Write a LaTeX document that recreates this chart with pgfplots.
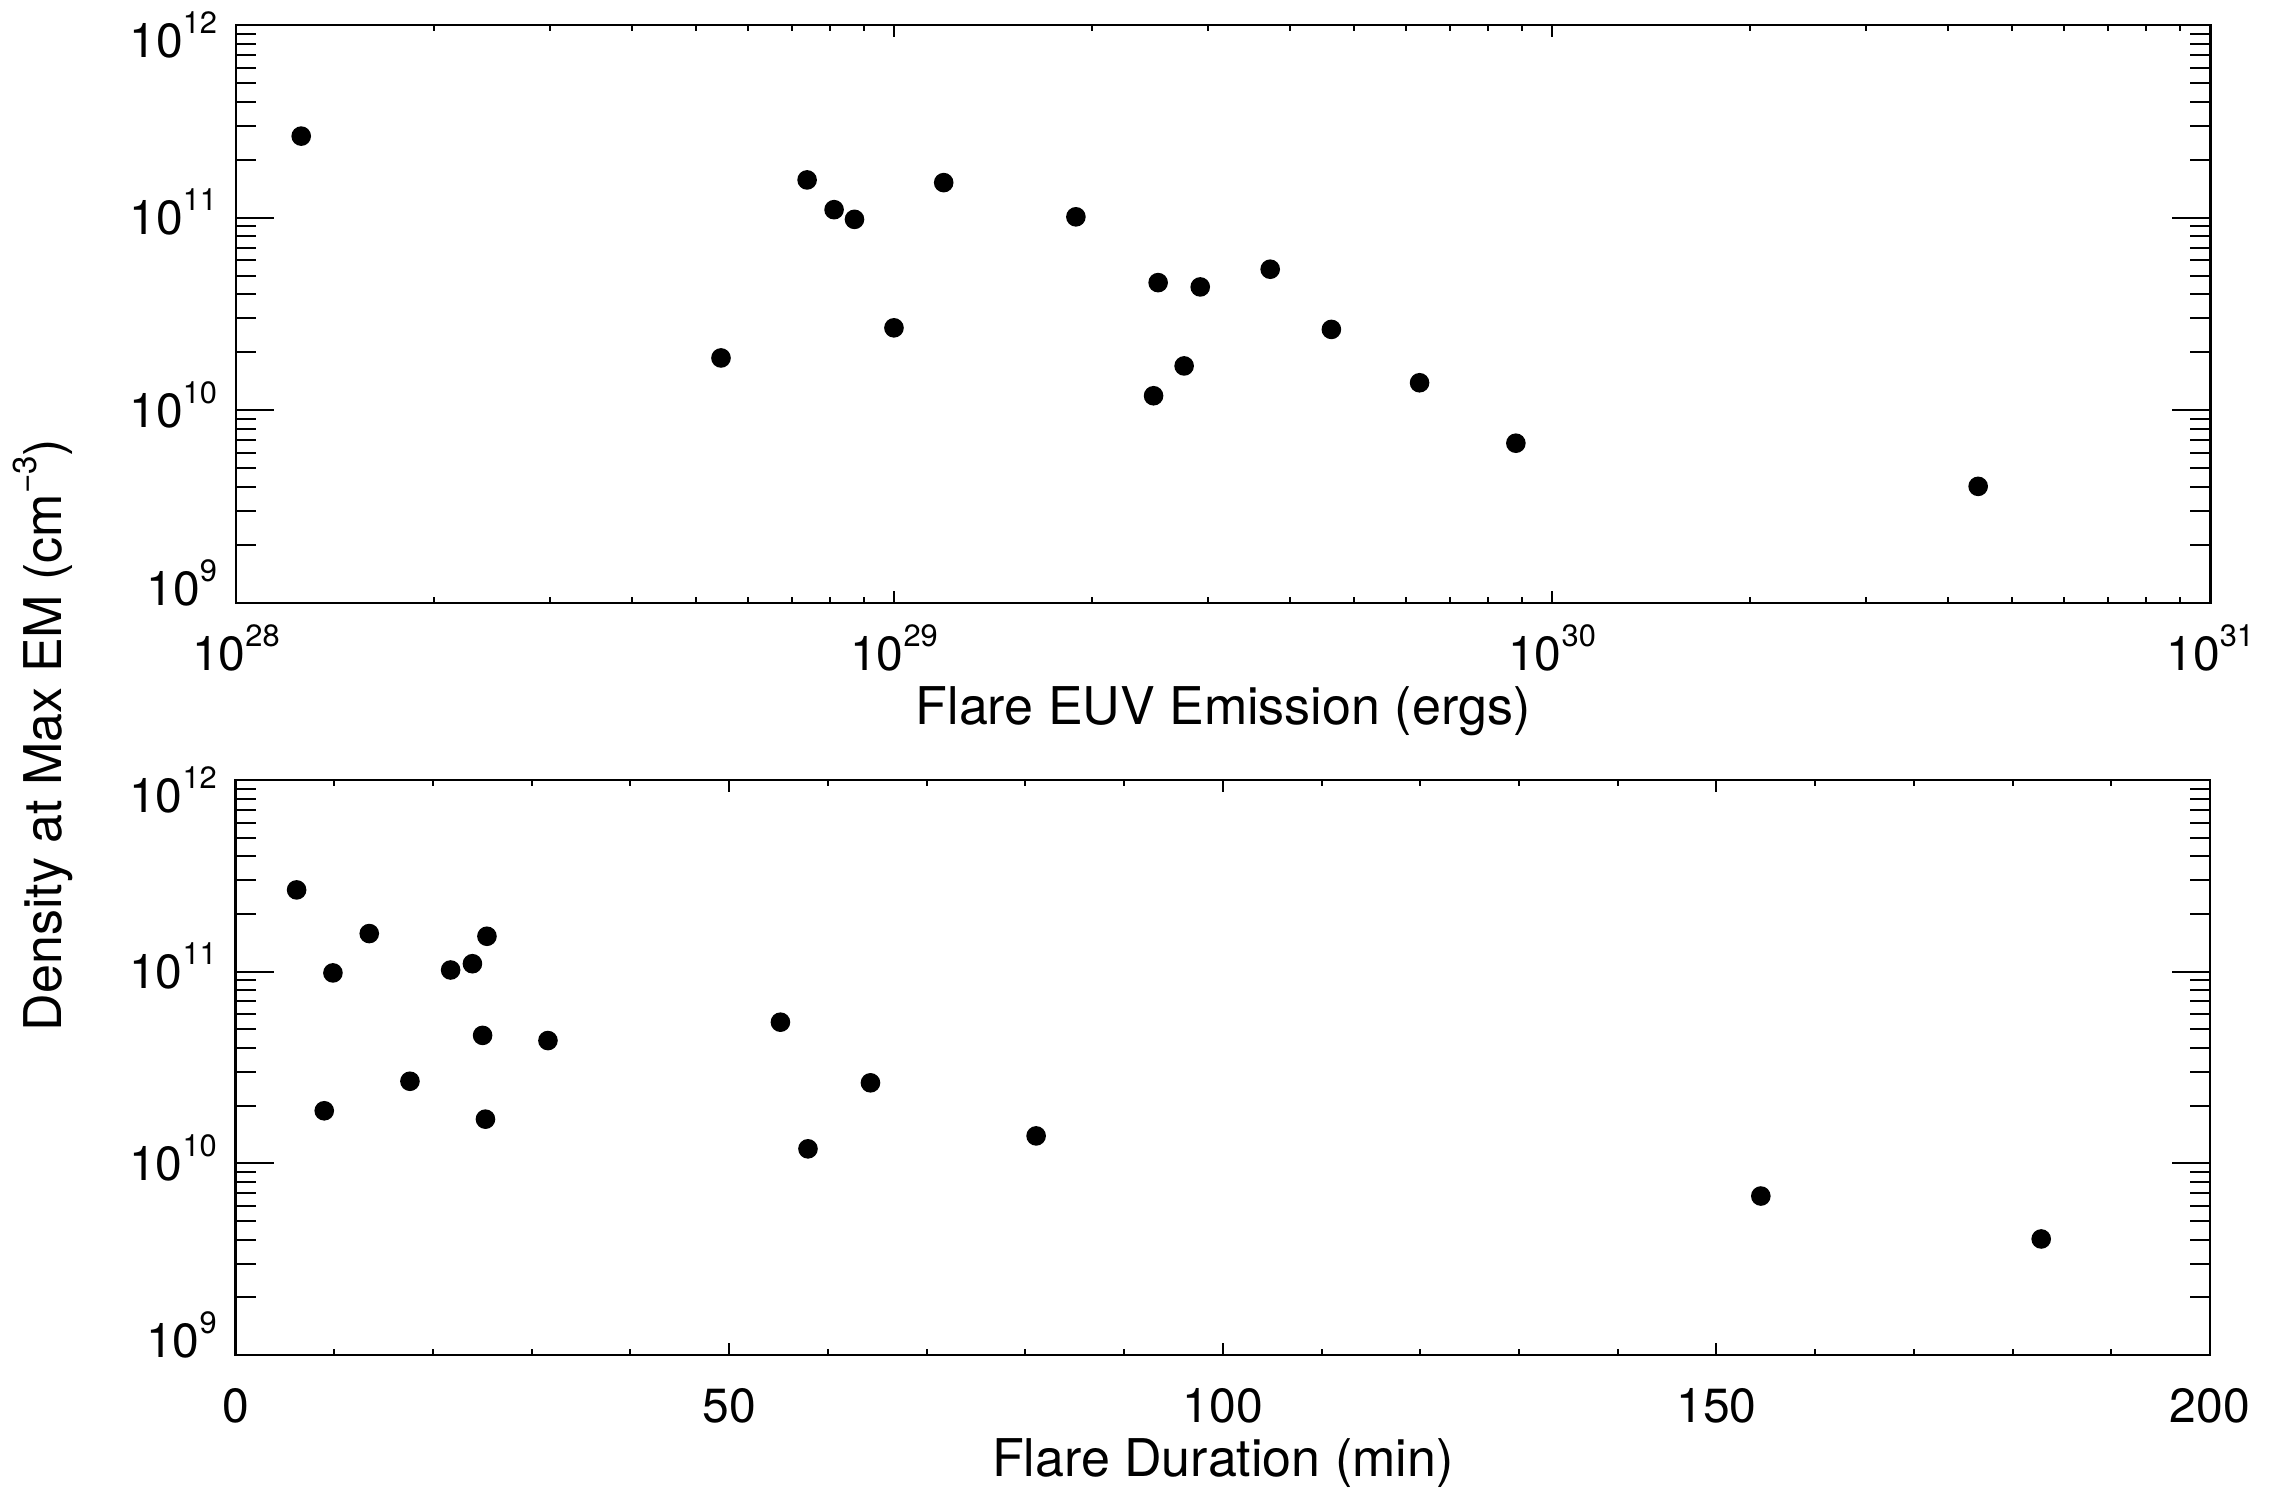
\documentclass[border=0pt]{standalone}
\usepackage{fontspec}
\setmainfont{TeX Gyre Heros}
\usepackage{pgfplots}
\usepackage{pgfplotstable}
\pgfplotsset{compat=1.18}
\newcommand{\sups}[1]{\raisebox{6pt}{\fontsize{7.7}{8}\selectfont #1}}
\newcommand{\lsups}[1]{\raisebox{6.3pt}{\fontsize{8.3}{9}\selectfont #1}}

\pgfplotstableread{
energy     dens
1.257e28   2.65e11
5.46e28    1.87e10
7.38e28    1.57e11
8.11e28    1.10e11
8.71e28    9.8e10
1.00e29    2.68e10
1.19e29    1.52e11
1.89e29    1.01e11
2.52e29    4.6e10
2.48e29    1.19e10
2.76e29    1.70e10
2.92e29    4.37e10
3.73e29    5.4e10
4.62e29    2.63e10
6.29e29    1.39e10
8.81e29    6.75e9
4.44e30    4.03e9
}\toptable

\pgfplotstableread{
dur     dens
6.18    2.67e11
8.98    1.88e10
13.54   1.58e11
23.99   1.10e11
9.86    9.85e10
17.66   2.68e10
25.46   1.53e11
21.78   1.02e11
25.02   4.65e10
57.98   1.19e10
25.31   1.70e10
31.64   4.37e10
55.19   5.45e10
64.31   2.63e10
81.09   1.39e10
154.5   6.75e9
182.9   4.03e9
}\bottable

\begin{document}
\begin{tikzpicture}[x=1pt,y=1pt]
\useasboundingbox (0,0) rectangle (569.75,372.75);

\begin{axis}[
  at={(58.9pt,222pt)}, anchor=south west,
  scale only axis, width=493.6pt, height=144.5pt,
  xmode=log, ymode=log,
  xmin=1e28, xmax=1e31, ymin=1e9, ymax=1e12,
  xtick={1e28,1e29,1e30,1e31},
  minor xtick={2e28,3e28,4e28,5e28,6e28,7e28,8e28,9e28,2e29,3e29,4e29,5e29,6e29,7e29,8e29,9e29,2e30,3e30,4e30,5e30,6e30,7e30,8e30,9e30},
  xticklabels={10\sups{28},10\sups{29},10\sups{30},10\sups{31}},
  ytick={1e9,1e10,1e11,1e12},
  minor ytick={2e9,3e9,4e9,5e9,6e9,7e9,8e9,9e9,2e10,3e10,4e10,5e10,6e10,7e10,8e10,9e10,2e11,3e11,4e11,5e11,6e11,7e11,8e11,9e11},
  yticklabels={\raisebox{3.75pt}{10\sups{9}},10\sups{10},10\sups{11},\raisebox{-3.75pt}{10\sups{12}}},
  axis line style={line width=0.65pt, black},
  tick style={line width=0.5pt, black},
  xtick style={/pgfplots/major tick length=2.9pt, /pgfplots/minor tick length=1.5pt},
  ytick style={/pgfplots/major tick length=9.5pt, /pgfplots/minor tick length=5pt},
  tick align=inside, tick pos=both,
  ticklabel style={font=\fontsize{12}{14}\selectfont, inner sep=0pt},
  xticklabel style={anchor=base, yshift=-17pt},
  yticklabel style={anchor=base east, yshift=-4.3pt, xshift=-4.5pt},
  xlabel={Flare EUV Emission (ergs)},
  xlabel style={at={(axis description cs:0.5,0)}, anchor=base, yshift=-30.5pt, font=\fontsize{13}{15}\selectfont},
]
\addplot[only marks, mark=*, mark size=2.25pt, mark options={fill=black, draw=black}, black] table[x=energy, y=dens] {\toptable};
\end{axis}

\begin{axis}[
  at={(58.9pt,34pt)}, anchor=south west,
  scale only axis, width=493.6pt, height=143.75pt,
  ymode=log,
  xmin=0, xmax=200, ymin=1e9, ymax=1e12,
  xtick={0,50,100,150,200},
  minor xtick={10,20,30,40,60,70,80,90,110,120,130,140,160,170,180,190},
  xticklabels={0,50,100,150,200},
  ytick={1e9,1e10,1e11,1e12},
  minor ytick={2e9,3e9,4e9,5e9,6e9,7e9,8e9,9e9,2e10,3e10,4e10,5e10,6e10,7e10,8e10,9e10,2e11,3e11,4e11,5e11,6e11,7e11,8e11,9e11},
  yticklabels={\raisebox{3.75pt}{10\sups{9}},10\sups{10},10\sups{11},\raisebox{-3.75pt}{10\sups{12}}},
  axis line style={line width=0.65pt, black},
  tick style={line width=0.5pt, black},
  xtick style={/pgfplots/major tick length=2.9pt, /pgfplots/minor tick length=1.5pt},
  ytick style={/pgfplots/major tick length=9.5pt, /pgfplots/minor tick length=5pt},
  tick align=inside, tick pos=both,
  ticklabel style={font=\fontsize{12}{14}\selectfont, inner sep=0pt},
  xticklabel style={anchor=base, yshift=-17pt},
  yticklabel style={anchor=base east, yshift=-4.3pt, xshift=-4.5pt},
  xlabel={Flare Duration (min)},
  xlabel style={at={(axis description cs:0.5,0)}, anchor=base, yshift=-30.5pt, font=\fontsize{13}{15}\selectfont},
]
\addplot[only marks, mark=*, mark size=2.25pt, mark options={fill=black, draw=black}, black] table[x=dur, y=dens] {\bottable};
\end{axis}

\node[rotate=90, anchor=base, inner sep=0pt, font=\fontsize{13}{15}\selectfont] at (15.5,189) {Density at Max EM (cm\lsups{−3})};
\end{tikzpicture}
\end{document}
